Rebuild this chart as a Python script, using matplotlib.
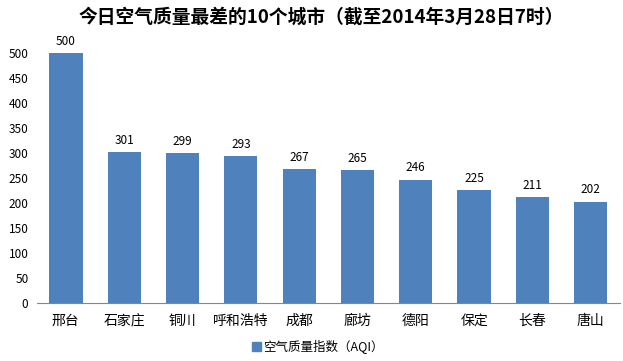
import numpy as np
import matplotlib.pyplot as plt
from matplotlib.patches import Patch

plt.rcParams['font.family'] = ['Noto Sans CJK SC', 'DejaVu Sans']

cities = ["邢台", "石家庄", "铜川", "呼和浩特", "成都", "廊坊", "德阳", "保定", "长春", "唐山"]
aqi = [500, 301, 299, 293, 267, 265, 246, 225, 211, 202]

fig = plt.figure(figsize=(6.23, 3.61), dpi=100)
ax = fig.add_axes([0.059, 0.161, 0.936, 0.692])

x = np.arange(len(cities))
bars = ax.bar(x, aqi, width=0.57, color="#4F81BD", zorder=2)
ax.bar_label(bars, padding=4, fontsize=8.5, clip_on=False)

ax.set_xlim(-0.5, len(cities) - 0.5)
ax.set_ylim(0, 500)
ax.set_yticks(np.arange(0, 501, 50))
ax.set_xticks(x, cities, fontsize=10)
ax.tick_params(axis='y', labelsize=8.5, length=0, pad=6)
ax.tick_params(axis='x', length=0, pad=8)
for s in ["top", "right", "left"]:
    ax.spines[s].set_visible(False)
ax.spines["bottom"].set_color("#868686")

fig.suptitle("今日空气质量最差的10个城市（截至2014年3月28日7时）", fontsize=13.5, fontweight="bold", y=0.978, x=0.515)

fig.legend(handles=[Patch(color="#4F81BD")], labels=["空气质量指数（AQI）"], loc="lower center",
           bbox_to_anchor=(0.51, -0.012), frameon=False, fontsize=9, handlelength=0.7, handleheight=0.7,
           handletextpad=0.2)

fig.savefig("out.png", dpi=100)
